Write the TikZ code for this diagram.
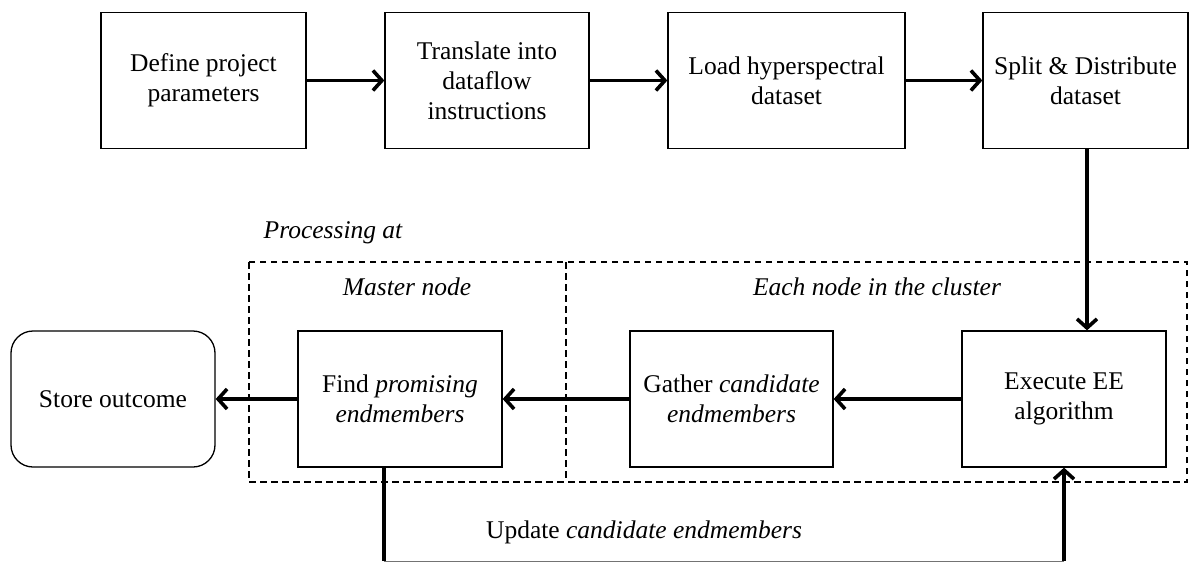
\documentclass[tikz,border=0pt]{standalone}
\usepackage{fontspec}
\setmainfont{Liberation Serif}
\usetikzlibrary{arrows.meta}

\begin{document}
\begin{tikzpicture}[x=1pt,y=-1pt,
  every node/.style={font=\fontsize{25.5}{30}\selectfont},
  stepbox/.style={draw, line width=1.3pt, minimum height=136pt, align=center, inner sep=2pt},
  endbox/.style={stepbox, rounded corners=22pt},
  flow/.style={line width=3.6pt, -{Straight Barb[length=9pt,width=20pt]}},
  feed/.style={line width=3.6pt},
  region/.style={draw, line width=1.3pt, dash pattern=on 6.5pt off 4.5pt},
  label/.style={font=\fontsize{25.5}{30}\selectfont\itshape}
]
\useasboundingbox (0,0) rectangle (1189,562);

% top row
\node[stepbox, minimum width=205pt] (def) at (203.5,80.5) {Define project\\parameters};
\node[stepbox, minimum width=204pt] (tra) at (487,80.5) {Translate into\\dataflow\\instructions};
\node[stepbox, minimum width=237pt] (load) at (786.5,80.5) {Load hyperspectral\\dataset};
\node[stepbox, minimum width=205pt] (split) at (1085.5,80.5) {Split \& Distribute\\dataset};

% processing regions
\draw[region] (249,262) rectangle (1187,482);
\draw[region] (566,262) -- (566,482);
\node[label] (proc) at (333,233) {Processing at};
\node[label] (mast) at (407,287) {Master node};
\node[label] (each) at (877,287) {Each node in the cluster};

% bottom row
\node[endbox, minimum width=204pt] (store) at (113,399) {Store outcome};
\node[stepbox, minimum width=204pt] (find) at (400,399) {Find \textit{promising}\\\textit{endmembers}};
\node[stepbox, minimum width=203pt] (gath) at (731.5,399) {Gather \textit{candidate}\\\textit{endmembers}};
\node[stepbox, minimum width=204pt] (exec) at (1064,399) {Execute EE\\algorithm};

% main flow
\draw[flow] (def) -- (tra);
\draw[flow] (tra) -- (load);
\draw[flow] (load) -- (split);
\draw[flow] (split.south -| 1087,0) -- (exec.north -| 1087,0);
\draw[flow] (exec) -- (gath);
\draw[flow] (gath) -- (find);
\draw[flow] (find) -- (store);

% feedback loop
\coordinate (u1) at (384,561);
\coordinate (u2) at (1064,561);
\draw[feed] (find.south -| u1) -- (u1);
\draw[line width=1pt, black!55] (u1) -- (u2);
\draw[flow] (u2) -- (exec.south);
\node (upd) at (644,532) {Update \textit{candidate endmembers}};
\end{tikzpicture}
\end{document}
